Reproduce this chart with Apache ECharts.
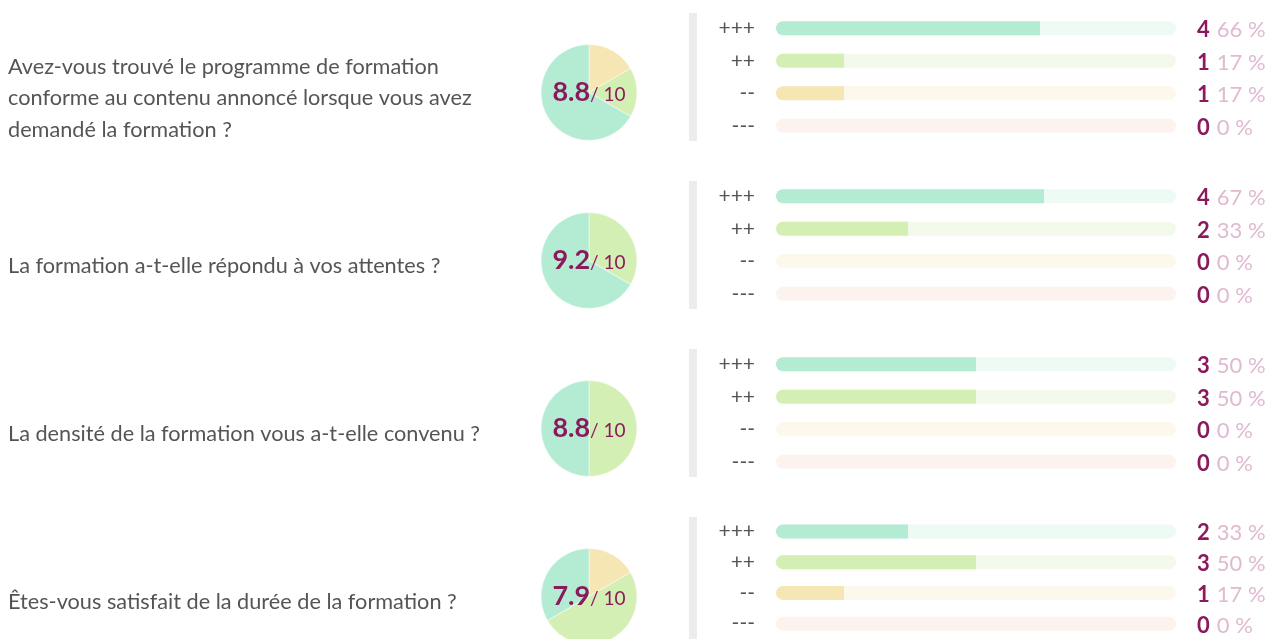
<!DOCTYPE html>
<html>
<head>
<meta charset="utf-8">
<script src="https://cdn.jsdelivr.net/npm/echarts@6/dist/echarts.min.js"></script>
<style>
html,body{margin:0;padding:0;background:#fff;}
#c{width:1272px;height:639px;}
</style>
</head>
<body>
<div id="c"></div>
<script>
// ---- data ----
const questions = [
  "Avez-vous trouvé le programme de formation\nconforme au contenu annoncé lorsque vous avez\ndemandé la formation ?",
  "La formation a-t-elle répondu à vos attentes ?",
  "La densité de la formation vous a-t-elle convenu ?",
  "Êtes-vous satisfait de la durée de la formation ?"
];
const scores = ["8.8", "9.2", "8.8", "7.9"];
const levels = ["+++", "++", "--", "---"];
// counts per question, order: +++, ++, --, ---
const counts = [
  [4, 1, 1, 0],
  [4, 2, 0, 0],
  [3, 3, 0, 0],
  [2, 3, 1, 0]
];
// percentages as displayed, order: +++, ++, --, ---
const percents = [
  [66, 17, 17, 0],
  [67, 33, 0, 0],
  [50, 50, 0, 0],
  [33, 50, 17, 0]
];

// ---- styles ----
const fillColors  = ["#b4ecd3", "#d4efb4", "#f6e6b4", "#f7d3c3"];
const trackColors = ["#eefaf4", "#f3faec", "#fcf9ec", "#fcf3ee"];
const FONT = "Lato";
const PITCH = 168;

const chart = echarts.init(document.getElementById('c'), null, {renderer: 'canvas'});

const grids = [], xAxes = [], yAxes = [], series = [], graphics = [];

questions.forEach((q, i) => {
  const cy = 92.5 + PITCH * i;
  grids.push({left: 776, width: 400, top: 12 + PITCH * i, height: 130, containLabel: false});
  xAxes.push({gridIndex: i, type: 'value', min: 0, max: 100, show: false});
  yAxes.push({
    gridIndex: i, type: 'category', data: levels, inverse: true,
    axisLine: {show: false}, axisTick: {show: false}, splitLine: {show: false},
    axisLabel: {margin: 21, color: '#555', fontFamily: FONT, fontSize: 21, padding: [3, 0, 0, 0]}
  });
  // track
  series.push({
    type: 'bar', xAxisIndex: i, yAxisIndex: i, barWidth: 14, barGap: '-100%',
    silent: true, z: 1,
    data: levels.map((l, k) => ({value: 100, itemStyle: {color: trackColors[k]}})),
    itemStyle: {borderRadius: 7},
    label: {
      show: true, position: 'right', distance: 21, offset: [0, 2],
      formatter: p => '{c|' + counts[i][p.dataIndex] + '}{p|' + percents[i][p.dataIndex] + ' %}',
      rich: {
        c: {fontFamily: FONT, fontWeight: 'bold', fontSize: 22, color: '#8b1a5c', padding: [0, 7, 0, 0]},
        p: {fontFamily: FONT, fontSize: 22, color: '#dfbad1'}
      }
    }
  });
  // fill
  series.push({
    type: 'bar', xAxisIndex: i, yAxisIndex: i, barWidth: 14, z: 2, silent: true,
    data: levels.map((l, k) => ({value: percents[i][k], itemStyle: {color: fillColors[k]}})),
    itemStyle: {borderRadius: [7, 0, 0, 7]}
  });
  // pie: clockwise from top in order ---, --, ++, +++
  series.push({
    type: 'pie', center: [589, cy], radius: 48, startAngle: 90, clockwise: true,
    silent: true, label: {show: false}, labelLine: {show: false},
    itemStyle: {borderColor: '#fff', borderWidth: 0.5},
    data: [3, 2, 1, 0].map(k => ({name: levels[k], value: counts[i][k], itemStyle: {color: fillColors[k]}}))
  });
  // grey divider
  graphics.push({type: 'rect', shape: {x: 689, y: 13 + PITCH * i, width: 8, height: 128}, style: {fill: '#ececec'}, silent: true});
  // question text
  graphics.push({
    type: 'text', x: 8, y: cy + 6,
    style: {
      text: q, fontFamily: FONT, fontSize: 21.7, fill: '#555', lineHeight: 31.5,
      textAlign: 'left', textVerticalAlign: 'middle'
    }
  });
  // score text
  graphics.push({
    type: 'text', x: 589, y: cy, z: 10,
    style: {
      text: '{s|' + scores[i] + '}{t|/ 10}',
      textAlign: 'center', textVerticalAlign: 'middle',
      rich: {
        s: {fontFamily: FONT, fontWeight: 'bold', fontSize: 27, fill: '#8b1a5c', color: '#8b1a5c'},
        t: {fontFamily: FONT, fontSize: 19, fill: '#8b1a5c', color: '#8b1a5c', padding: [5, 0, 0, 0]}
      }
    }
  });
});

chart.setOption({
  animation: false,
  grid: grids, xAxis: xAxes, yAxis: yAxes, series: series, graphic: graphics
});
</script>
</body>
</html>
